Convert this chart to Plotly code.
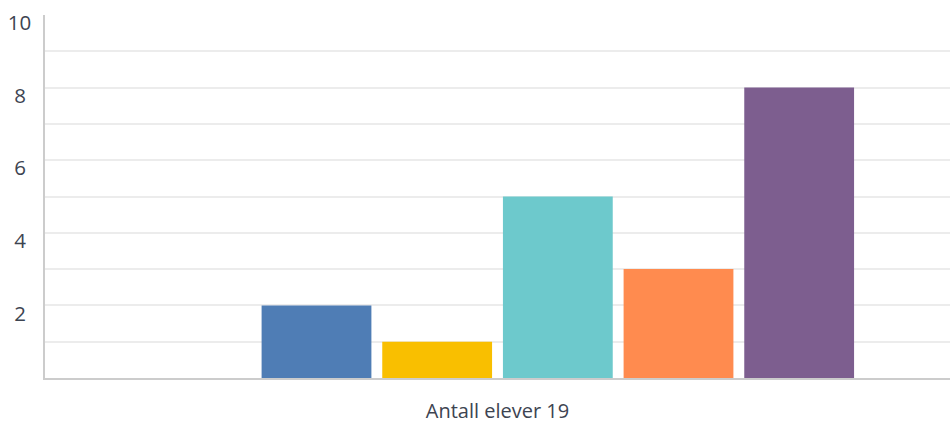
import plotly.graph_objects as go

categories = ["Antall elever 19"]
series_names = ["Serie 1", "Serie 2", "Serie 3", "Serie 4", "Serie 5", "Serie 6"]
series_values = [0, 2, 1, 5, 3, 8]
colors = ["#7cb5ec", "#4f7db5", "#f9bf00", "#6dc9cc", "#ff8b4f", "#7d5e8f"]
ytick_vals = [2, 4, 6, 8, 10]
ytick_text = ["2\u2005", "4\u2005", "6\u2005", "8\u2005", "10"]

fig = go.Figure()
for name, val, col in zip(series_names, series_values, colors):
    fig.add_trace(go.Bar(name=name, x=categories, y=[val], marker=dict(color=col, line=dict(width=0))))

fig.update_layout(
    width=951, height=423,
    margin=dict(l=45, r=1, t=15, b=44.5),
    paper_bgcolor="white", plot_bgcolor="white",
    barmode="group", bargap=0.2, bargroupgap=0.09,
    showlegend=False,
    font=dict(family="Open Sans", color="#3d4451", size=20.5),
)
fig.update_xaxes(
    automargin=False,
    showgrid=False, showline=True, linecolor="#cccccc", linewidth=2,
    ticks="", ticklabelstandoff=14, tickfont=dict(size=20, color="#3d4451"),
)
fig.update_yaxes(
    automargin=False,
    range=[0, 10], tickvals=ytick_vals, ticktext=ytick_text,
    showgrid=False, zeroline=False, showline=True, linecolor="#cccccc", linewidth=1.5,
    ticks="", ticklabelstandoff=8, ticklabelshift=8,
    tickfont=dict(size=20.5, color="#3d4451"),
    minor=dict(tickvals=[1, 2, 3, 4, 5, 6, 7, 8, 9], showgrid=True, gridcolor="#ececec", gridwidth=1.5),
)
fig.write_html("out.html")
